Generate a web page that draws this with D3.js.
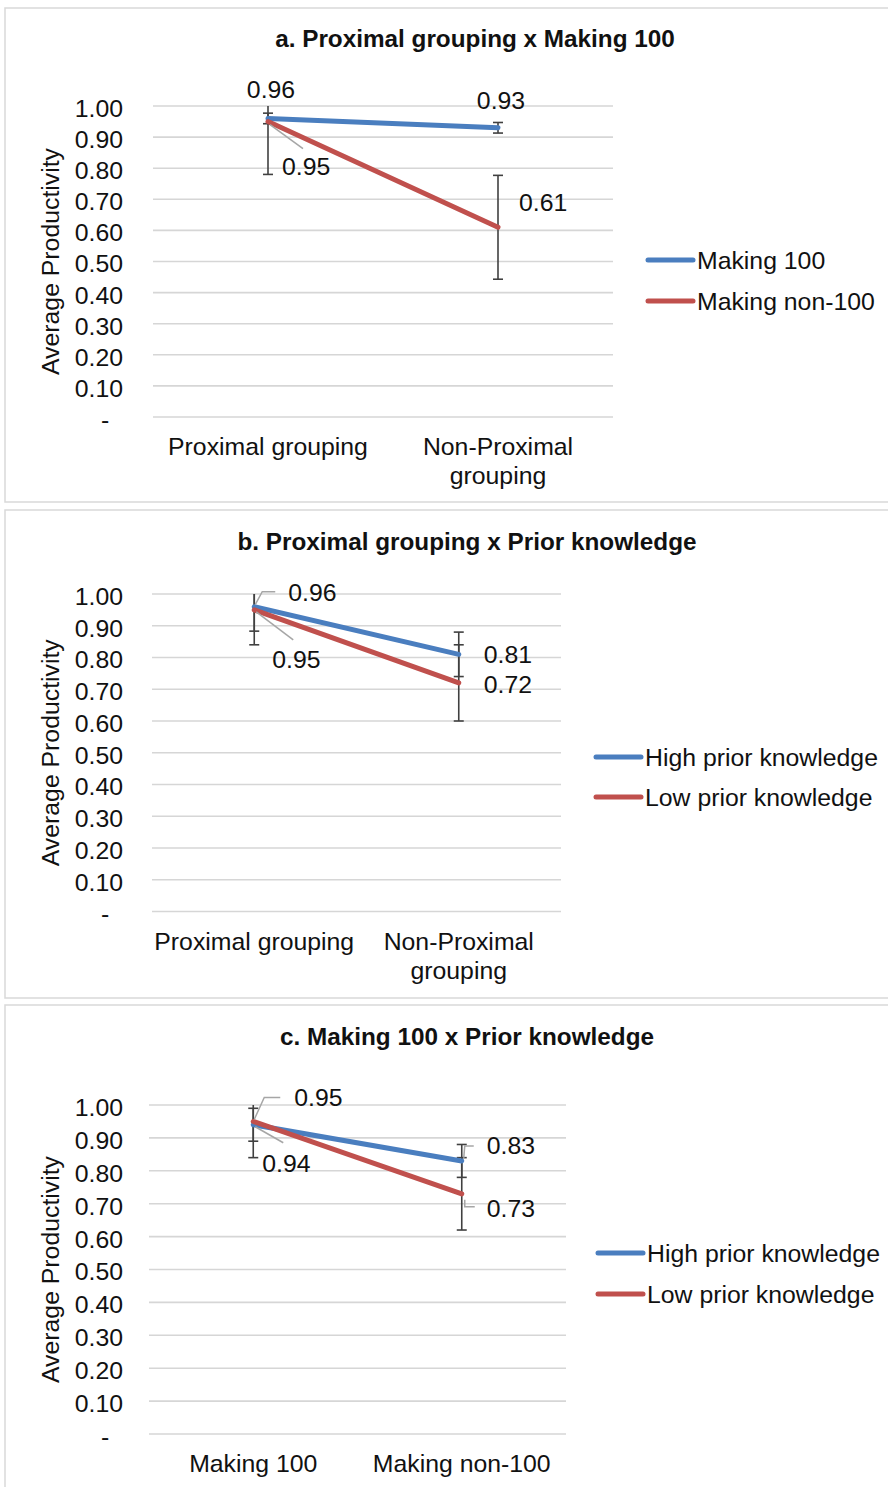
<!DOCTYPE html>
<html>
<head>
<meta charset="utf-8">
<script src="https://cdn.jsdelivr.net/npm/d3@7"></script>
<style>
  html, body { margin: 0; padding: 0; background: #fff; }
  svg { display: block; font-family: "Liberation Sans", Arial, sans-serif; }
</style>
</head>
<body>
<svg id="chart" width="888" height="1487"></svg>
<script>
// ---- data ----
const yTickValues = [0, 0.1, 0.2, 0.3, 0.4, 0.5, 0.6, 0.7, 0.8, 0.9, 1.0];

const titleA = "a. Proximal grouping x Making 100";
const categoriesA = ["Proximal grouping", "Non-Proximal grouping"];
const seriesA = ["Making 100", "Making non-100"];
const valuesA_making100 = [0.96, 0.93];
const valuesA_makingNon100 = [0.95, 0.61];
const errorsA_making100 = [0.017, 0.017];
const errorsA_makingNon100 = [0.17, 0.167];

const titleB = "b. Proximal grouping x Prior knowledge";
const categoriesB = ["Proximal grouping", "Non-Proximal grouping"];
const seriesB = ["High prior knowledge", "Low prior knowledge"];
const valuesB_high = [0.96, 0.81];
const valuesB_low = [0.95, 0.72];
const errorsB_high = [0.077, 0.07];
const errorsB_low = [0.11, 0.12];

const titleC = "c. Making 100 x Prior knowledge";
const categoriesC = ["Making 100", "Making non-100"];
const seriesC = ["High prior knowledge", "Low prior knowledge"];
const valuesC_high = [0.94, 0.83];
const valuesC_low = [0.95, 0.73];
const errorsC_high = [0.05, 0.05];
const errorsC_low = [0.11, 0.11];

const yAxisTitle = "Average Productivity";

// ---- styling ----
const colors = ["#4a7ebf", "#c0504d"];
const gridColor = "#d6d6d6";
const frameColor = "#d9d9d9";
const errColor = "#404040";
const leaderColor = "#a6a6a6";
const fontSize = 24.8;

// ---- layout for each panel ----
const panels = [
  {
    title: titleA, categories: categoriesA, series: seriesA,
    values: [valuesA_making100, valuesA_makingNon100],
    errors: [errorsA_making100, errorsA_makingNon100],
    frame: [5, 8, 1000, 502], titleX: 475, titleY: 47,
    x: [153, 613], y: [417, 106], axisTitleX: 50,
    legend: { x: 648, y: 260, gap: 41 },
    labels: [
      [ { dx: 3, dy: -20, anchor: "middle" }, { dx: 3, dy: -19, anchor: "middle" } ],
      [ { dx: 14, dy: 53, anchor: "start", leader: [[2, 3], [35, 27]] },
        { dx: 21, dy: -16, anchor: "start" } ]
    ]
  },
  {
    title: titleB, categories: categoriesB, series: seriesB,
    values: [valuesB_high, valuesB_low],
    errors: [errorsB_high, errorsB_low],
    frame: [5, 510, 1000, 998], titleX: 467, titleY: 550,
    x: [152, 561], y: [911.5, 594], axisTitleX: 50,
    legend: { x: 596, y: 757, gap: 40 },
    labels: [
      [ { dx: 34, dy: -6, anchor: "start", leader: [[1, -2], [8, -15], [21, -15]] },
        { dx: 25, dy: 9, anchor: "start" } ],
      [ { dx: 18, dy: 58, anchor: "start", leader: [[2, 2], [39, 30]] },
        { dx: 25, dy: 10, anchor: "start" } ]
    ]
  },
  {
    title: titleC, categories: categoriesC, series: seriesC,
    values: [valuesC_high, valuesC_low],
    errors: [errorsC_high, errorsC_low],
    frame: [5, 1005, 1000, 1500], titleX: 467, titleY: 1045,
    x: [149, 566], y: [1434, 1105], axisTitleX: 50,
    legend: { x: 598, y: 1253, gap: 41 },
    labels: [
      [ { dx: 9, dy: 47, anchor: "start", leader: [[2, 2], [30, 18]] },
        { dx: 25, dy: -7, anchor: "start", leader: [[2, -3], [3, -15], [12, -15]] } ],
      [ { dx: 41, dy: -15, anchor: "start", leader: [[1, -2], [11, -24], [27, -24]] },
        { dx: 25, dy: 23, anchor: "start", leader: [[3, 6], [3, 13], [13, 13]] } ]
    ]
  }
];

const svg = d3.select("#chart");
const fmt = d3.format(".2f");

panels.forEach(p => {
  const g = svg.append("g");

  // panel frame
  g.append("rect")
    .attr("x", p.frame[0]).attr("y", p.frame[1])
    .attr("width", p.frame[2] - p.frame[0]).attr("height", p.frame[3] - p.frame[1])
    .attr("fill", "#fff").attr("stroke", frameColor).attr("stroke-width", 1.5);

  // title
  g.append("text")
    .attr("x", p.titleX).attr("y", p.titleY)
    .attr("text-anchor", "middle")
    .attr("font-size", 24.3).attr("font-weight", "bold")
    .attr("fill", "#111")
    .text(p.title);

  const x = d3.scalePoint().domain(p.categories).range(p.x).padding(0.5);
  const y = d3.scaleLinear().domain([0, 1]).range(p.y);

  // horizontal gridlines
  g.append("g").selectAll("line").data(yTickValues).join("line")
    .attr("x1", p.x[0]).attr("x2", p.x[1])
    .attr("y1", d => y(d)).attr("y2", d => y(d))
    .attr("stroke", gridColor).attr("stroke-width", 1.6);

  // y axis labels
  const yAxis = d3.axisLeft(y)
    .tickValues(yTickValues)
    .tickSize(0).tickPadding(0)
    .tickFormat(d => d === 0 ? "-\u2007" : fmt(d));
  const ya = g.append("g").attr("transform", `translate(${123},0)`).call(yAxis);
  ya.select(".domain").remove();
  ya.selectAll("text")
    .attr("font-size", fontSize)
    .attr("font-family", "Liberation Sans, Arial, sans-serif")
    .attr("fill", "#111")
    .attr("dy", "0.42em");

  // y axis title
  const cy = (p.y[0] + p.y[1]) / 2;
  g.append("text")
    .attr("transform", `translate(${p.axisTitleX},${cy}) rotate(-90)`)
    .attr("text-anchor", "middle").attr("dy", "0.35em")
    .attr("font-size", fontSize).attr("fill", "#111")
    .text(yAxisTitle);

  // category labels (wrapped to the band width)
  const band = x.step();
  p.categories.forEach(c => {
    const t = g.append("text")
      .attr("x", x(c)).attr("y", y(0) + 38)
      .attr("text-anchor", "middle")
      .attr("font-size", fontSize).attr("fill", "#111")
      .text(c);
    if (t.node().getComputedTextLength() > band - 4) {
      const words = c.split(" ");
      t.text(null);
      const lines = [words.slice(0, -1).join(" "), words[words.length - 1]];
      lines.forEach((ln, i) => {
        t.append("tspan").attr("x", x(c)).attr("dy", i === 0 ? 0 : 29).text(ln);
      });
    }
  });

  const plotTop = y(1), plotBottom = y(0);

  // error bars (cut at the plot edge, caps only where the bar ends inside)
  p.series.forEach((s, si) => {
    const eg = g.append("g").attr("stroke", errColor).attr("stroke-width", 1.6);
    p.categories.forEach((c, ci) => {
      const v = p.values[si][ci], e = p.errors[si][ci];
      const hi = v + e, lo = v - e;
      const yHi = Math.max(y(Math.min(hi, 1)), plotTop);
      const yLo = Math.min(y(Math.max(lo, 0)), plotBottom);
      const cx = x(c);
      eg.append("line").attr("x1", cx).attr("x2", cx).attr("y1", yHi).attr("y2", yLo);
      if (hi <= 1) eg.append("line").attr("x1", cx - 5).attr("x2", cx + 5).attr("y1", y(hi)).attr("y2", y(hi));
      if (lo >= 0) eg.append("line").attr("x1", cx - 5).attr("x2", cx + 5).attr("y1", y(lo)).attr("y2", y(lo));
    });
  });

  // series lines
  const line = d3.line().x(d => x(d[0])).y(d => y(d[1]));
  p.series.forEach((s, si) => {
    const pts = p.categories.map((c, ci) => [c, p.values[si][ci]]);
    g.append("path")
      .attr("d", line(pts))
      .attr("fill", "none")
      .attr("stroke", colors[si]).attr("stroke-width", 5)
      .attr("stroke-linecap", "round");
  });

  // data labels with leader lines
  p.series.forEach((s, si) => {
    p.categories.forEach((c, ci) => {
      const v = p.values[si][ci];
      const px = x(c), py = y(v);
      const L = p.labels[si][ci];
      if (L.leader) {
        g.append("path")
          .attr("d", d3.line()(L.leader.map(q => [px + q[0], py + q[1]])))
          .attr("fill", "none").attr("stroke", leaderColor).attr("stroke-width", 1.5);
      }
      g.append("text")
        .attr("x", px + L.dx).attr("y", py + L.dy)
        .attr("text-anchor", L.anchor)
        .attr("font-size", fontSize).attr("fill", "#111")
        .text(fmt(v));
    });
  });

  // legend
  p.series.forEach((s, si) => {
    const ly = p.legend.y + si * p.legend.gap;
    g.append("line")
      .attr("x1", p.legend.x).attr("x2", p.legend.x + 45)
      .attr("y1", ly).attr("y2", ly)
      .attr("stroke", colors[si]).attr("stroke-width", 5)
      .attr("stroke-linecap", "round");
    g.append("text")
      .attr("x", p.legend.x + 49).attr("y", ly).attr("dy", "0.36em")
      .attr("font-size", fontSize).attr("fill", "#111")
      .text(s);
  });
});
</script>
</body>
</html>
